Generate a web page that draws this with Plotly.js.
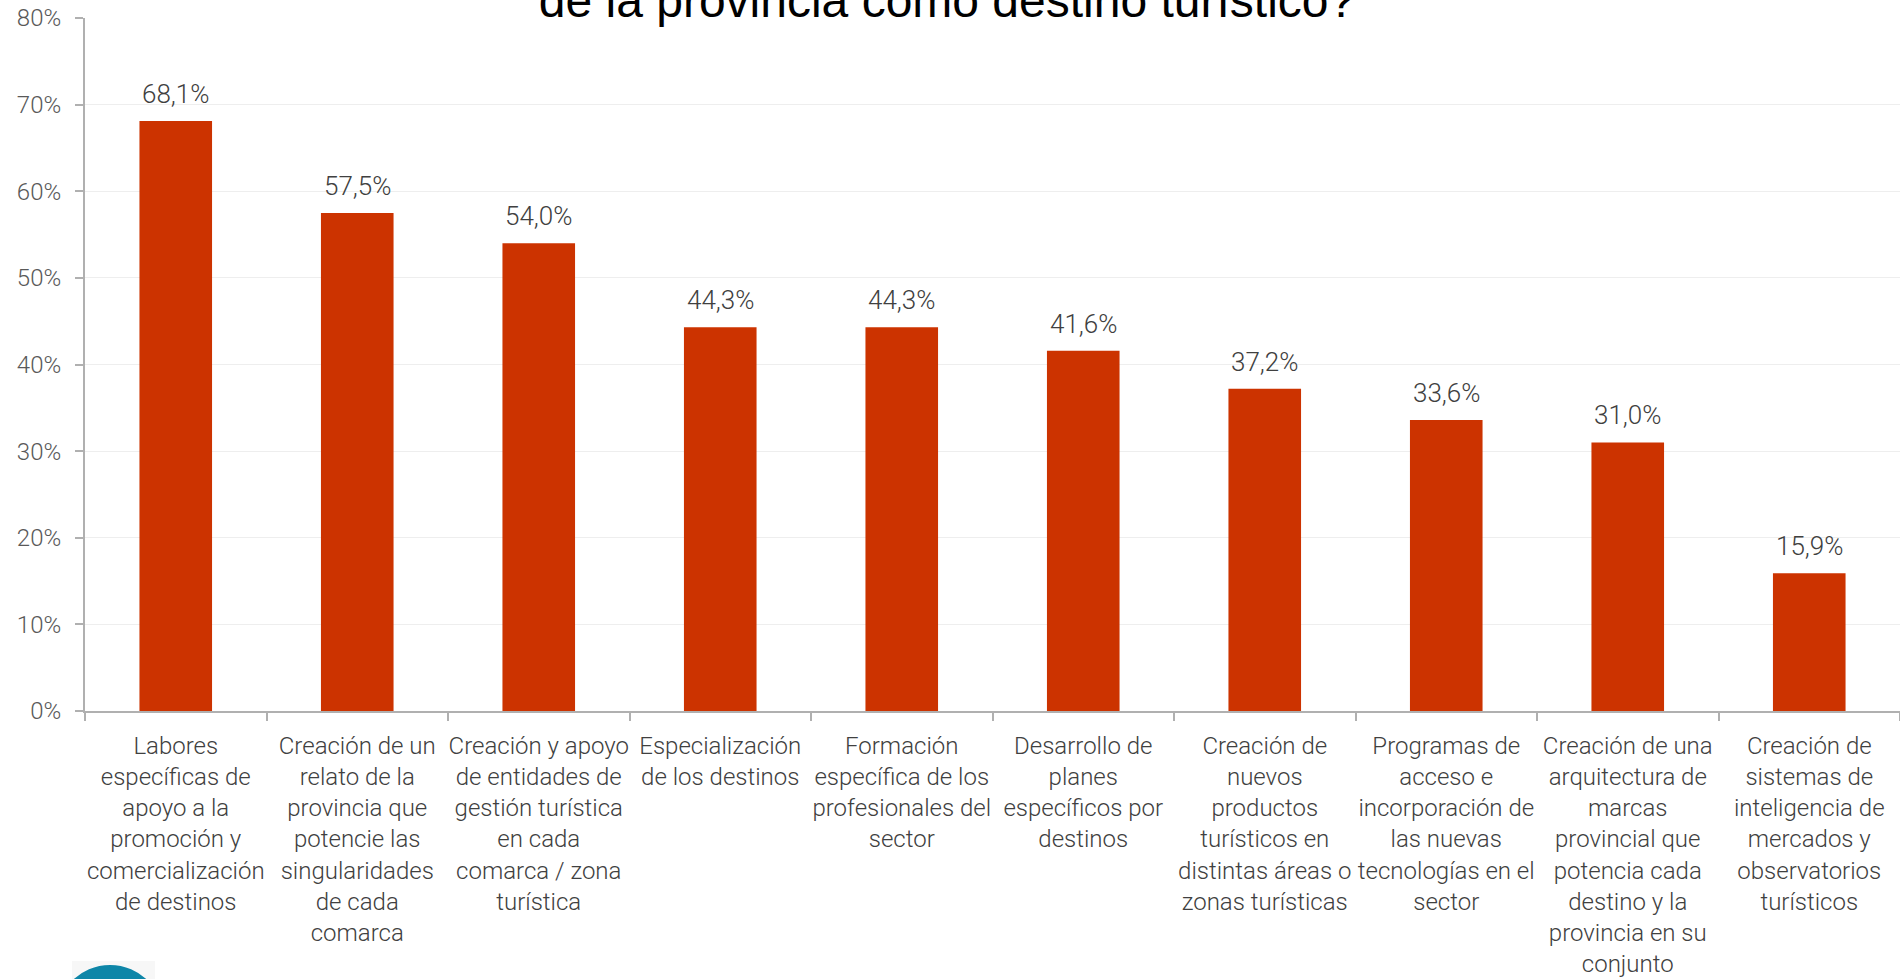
<!DOCTYPE html>
<html>
<head>
<meta charset="utf-8">
<script src="https://cdn.plot.ly/plotly-3.0.1.min.js"></script>
<style>html,body{margin:0;padding:0;background:#fff;}#chart{width:1900px;height:979px;}</style>
</head>
<body>
<div id="chart"></div>
<script>
const categories = [
  "Labores<br>específicas de<br>apoyo a la<br>promoción y<br>comercialización<br>de destinos",
  "Creación de un<br>relato de la<br>provincia que<br>potencie las<br>singularidades<br>de cada<br>comarca",
  "Creación y apoyo<br>de entidades de<br>gestión turística<br>en cada<br>comarca / zona<br>turística",
  "Especialización<br>de los destinos",
  "Formación<br>específica de los<br>profesionales del<br>sector",
  "Desarrollo de<br>planes<br>específicos por<br>destinos",
  "Creación de<br>nuevos<br>productos<br>turísticos en<br>distintas áreas o<br>zonas turísticas",
  "Programas de<br>acceso e<br>incorporación de<br>las nuevas<br>tecnologías en el<br>sector",
  "Creación de una<br>arquitectura de<br>marcas<br>provincial que<br>potencia cada<br>destino y la<br>provincia en su<br>conjunto",
  "Creación de<br>sistemas de<br>inteligencia de<br>mercados y<br>observatorios<br>turísticos"
];
const values = [68.1, 57.5, 54.0, 44.3, 44.3, 41.6, 37.2, 33.6, 31.0, 15.9];
const valueLabels = ["68,1%", "57,5%", "54,0%", "44,3%", "44,3%", "41,6%", "37,2%", "33,6%", "31,0%", "15,9%"];
const titleText = "de la provincia como destino turístico?";

const labelFont = {family: "Roboto, sans-serif", size: 24, color: "#404040", weight: 300};

const trace = {
  type: "bar",
  x: categories,
  y: values,
  width: 0.4,
  marker: {color: "#cc3300"},
  hoverinfo: "none"
};

const annotations = categories.map((c, i) => ({
  x: c, y: values[i], xref: "x", yref: "y",
  text: valueLabels[i], showarrow: false,
  yanchor: "bottom", yshift: 10,
  font: {family: "Roboto, sans-serif", size: 26, color: "#404040", weight: 300}
}));

const layout = {
  width: 1900, height: 979,
  margin: {l: 85, r: 0, t: 18, b: 268, pad: 0},
  paper_bgcolor: "#ffffff", plot_bgcolor: "#ffffff",
  showlegend: false,
  title: {
    text: titleText,
    x: 947/1900, xanchor: "center",
    y: 1, yanchor: "middle",
    font: {family: "Liberation Sans, Arial, sans-serif", size: 48, color: "#000000"}
  },
  bargap: 0.6,
  xaxis: {
    type: "category",
    showline: true, linecolor: "#b0b0b0", linewidth: 2,
    ticks: "outside", tickson: "boundaries", ticklen: 8, tickcolor: "#b0b0b0", tickwidth: 2,
    tickangle: 0, ticklabelstandoff: 12,
    tickfont: labelFont,
    showgrid: false, zeroline: false, automargin: false, fixedrange: true
  },
  yaxis: {
    range: [0, 80], dtick: 10, ticksuffix: "%",
    showline: true, linecolor: "#b0b0b0", linewidth: 2,
    ticks: "outside", ticklen: 8, tickcolor: "#b0b0b0", tickwidth: 2,
    ticklabelstandoff: 9,
    tickfont: {family: "Roboto, sans-serif", size: 24, color: "#595959", weight: 300},
    showgrid: true, gridcolor: "#eeeeee", gridwidth: 1,
    zeroline: false, automargin: false, fixedrange: true
  },
  annotations: annotations,
  shapes: [
    {type: "rect", xref: "paper", yref: "paper", x0: -0.0072, x1: 0.0386, y0: -0.45, y1: -0.3609,
     fillcolor: "#f7f7f7", line: {width: 0}, layer: "below"},
    {type: "circle", xref: "paper", yref: "paper", x0: -0.0165, x1: 0.0441, y0: -0.53, y1: -0.3665,
     fillcolor: "#0e86a8", line: {width: 0}}
  ]
};

Plotly.newPlot("chart", [trace], layout, {displayModeBar: false, staticPlot: true});
</script>
</body>
</html>
